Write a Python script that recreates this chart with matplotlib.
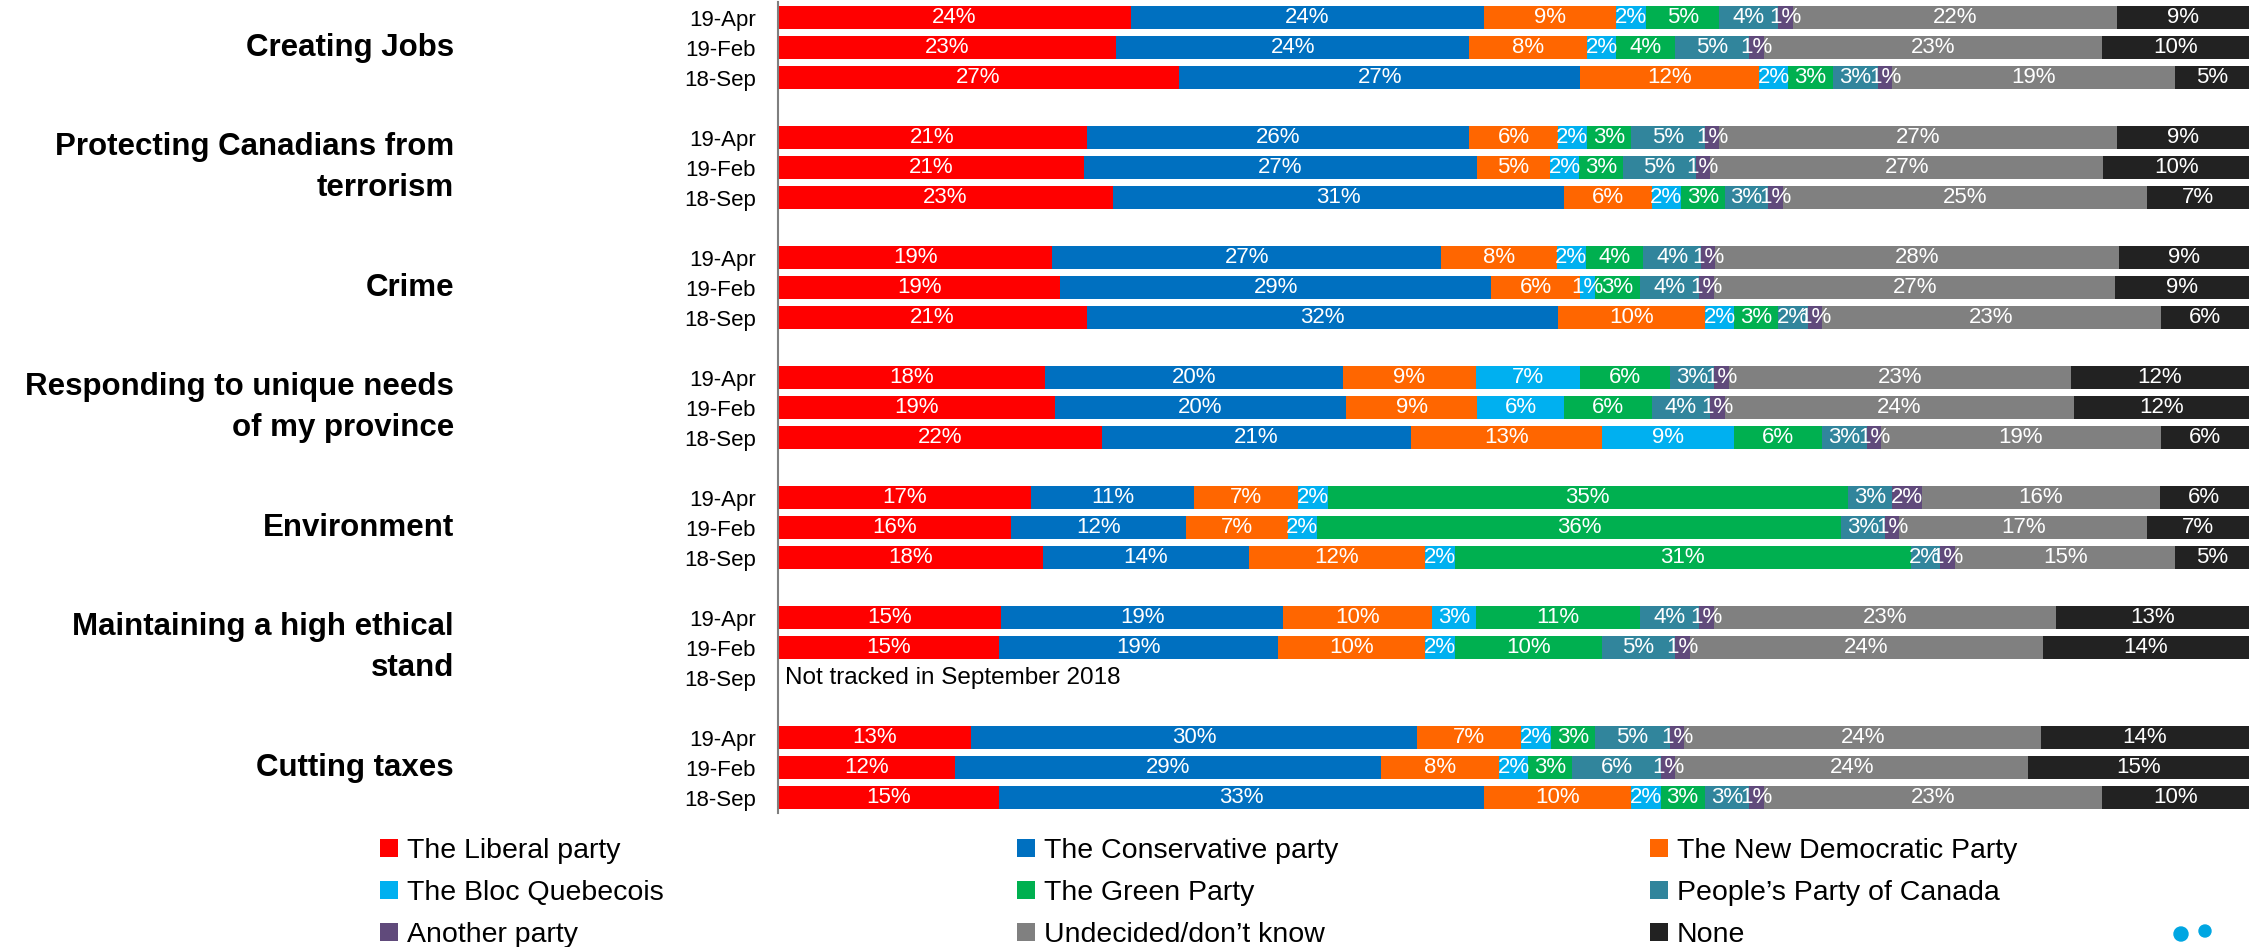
import matplotlib
matplotlib.use("Agg")
import matplotlib.pyplot as plt
import matplotlib.transforms as mtransforms
from matplotlib.patches import Ellipse
import numpy as np

plt.rcParams["font.family"] = ["Liberation Sans", "DejaVu Sans"]

# ---------------- data ----------------
categories = [
    "Creating Jobs",
    "Protecting Canadians from\nterrorism",
    "Crime",
    "Responding to unique needs\nof my province",
    "Environment",
    "Maintaining a high ethical\nstand",
    "Cutting taxes",
]
periods = ["19-Apr", "19-Feb", "18-Sep"]
parties = [
    "The Liberal party",
    "The Conservative party",
    "The New Democratic Party",
    "The Bloc Quebecois",
    "The Green Party",
    "People\u2019s Party of Canada",
    "Another party",
    "Undecided/don\u2019t know",
    "None",
]
colors = ["#FF0000", "#0070C0", "#FF6600", "#00B0F0", "#00B050",
          "#31859C", "#604A7B", "#808080", "#222222"]

# rows: 19-Apr, 19-Feb, 18-Sep ; columns follow `parties`
creating_jobs = [[24, 24, 9, 2, 5, 4, 1, 22, 9],
                 [23, 24, 8, 2, 4, 5, 1, 23, 10],
                 [27, 27, 12, 2, 3, 3, 1, 19, 5]]
terrorism = [[21, 26, 6, 2, 3, 5, 1, 27, 9],
             [21, 27, 5, 2, 3, 5, 1, 27, 10],
             [23, 31, 6, 2, 3, 3, 1, 25, 7]]
crime = [[19, 27, 8, 2, 4, 4, 1, 28, 9],
         [19, 29, 6, 1, 3, 4, 1, 27, 9],
         [21, 32, 10, 2, 3, 2, 1, 23, 6]]
province = [[18, 20, 9, 7, 6, 3, 1, 23, 12],
            [19, 20, 9, 6, 6, 4, 1, 24, 12],
            [22, 21, 13, 9, 6, 3, 1, 19, 6]]
environment = [[17, 11, 7, 2, 35, 3, 2, 16, 6],
               [16, 12, 7, 2, 36, 3, 1, 17, 7],
               [18, 14, 12, 2, 31, 2, 1, 15, 5]]
ethics = [[15, 19, 10, 3, 11, 4, 1, 23, 13],
          [15, 19, 10, 2, 10, 5, 1, 24, 14],
          None]
taxes = [[13, 30, 7, 2, 3, 5, 1, 24, 14],
         [12, 29, 8, 2, 3, 6, 1, 24, 15],
         [15, 33, 10, 2, 3, 3, 1, 23, 10]]
not_tracked_note = "Not tracked in September 2018"

groups = [creating_jobs, terrorism, crime, province, environment, ethics, taxes]

# ---------------- figure ----------------
W, H = 2258, 947
fig = plt.figure(figsize=(W / 100, H / 100), dpi=100)
ax = fig.add_axes([778 / W, 1 - 812.5 / H, (2249 - 778) / W, 810 / H])

ypos, rows, ylabels = [], [], []
for g, grp in enumerate(groups):
    for p, row in enumerate(grp):
        y = g * 4 + p
        ylabels.append((y, periods[p]))
        if row is not None:
            ypos.append(y)
            rows.append(row)

vals = np.array(rows, dtype=float)
norm = vals / vals.sum(axis=1, keepdims=True) * 100
lefts = np.zeros(len(rows))
containers = []
for j, party in enumerate(parties):
    c = ax.barh(ypos, norm[:, j], left=lefts, height=0.77, color=colors[j],
                label=party, linewidth=0)
    ax.bar_label(c, labels=[f"{int(v)}%" for v in vals[:, j]], label_type="center",
                 color="white", fontsize=16)
    containers.append(c)
    lefts = lefts + norm[:, j]

ax.set_xlim(0, 100)
ax.set_ylim(26.5, -0.5)
ax.set_yticks([y for y, _ in ylabels], [l for _, l in ylabels], fontsize=16)
ax.tick_params(axis="y", length=0, pad=16)
ax.set_xticks([])
for s in ["top", "right", "bottom"]:
    ax.spines[s].set_visible(False)
ax.spines["left"].set_color("#7F7F7F")
ax.spines["left"].set_linewidth(1.5)

# note for missing bar
ax.text(0.5, 5 * 4 + 2, not_tracked_note, ha="left", va="center", fontsize=17.5,
        color="black")

# category labels
trans = mtransforms.blended_transform_factory(fig.transFigure, ax.transData)
for g, cat in enumerate(categories):
    ax.text(454 / W, g * 4 + 1, cat, transform=trans, ha="right", va="center",
            fontsize=22.5, fontweight="bold", linespacing=1.45, color="black")

# legends (three columns)
col_x = [380 / W, 1017 / W, 1650 / W]
col_items = [[0, 3, 6], [1, 4, 7], [2, 5, 8]]
for x, items in zip(col_x, col_items):
    leg = fig.legend([containers[i] for i in items], [parties[i] for i in items],
                     loc="upper left", bbox_to_anchor=(x, 1 - 838 / H),
                     bbox_transform=fig.transFigure, frameon=False,
                     fontsize=20.5, handlelength=0.63, handleheight=0.63,
                     handletextpad=0.32, labelspacing=0.56, borderpad=0,
                     borderaxespad=0)

# small logo dots bottom-right
for cx, cy, r in [(2181, 934, 7), (2205, 931, 6)]:
    fig.add_artist(Ellipse((cx / W, 1 - cy / H), 2 * r / W, 2 * r / H,
                           transform=fig.transFigure, color="#00A6E2"))

fig.savefig("out.png", dpi=100)
